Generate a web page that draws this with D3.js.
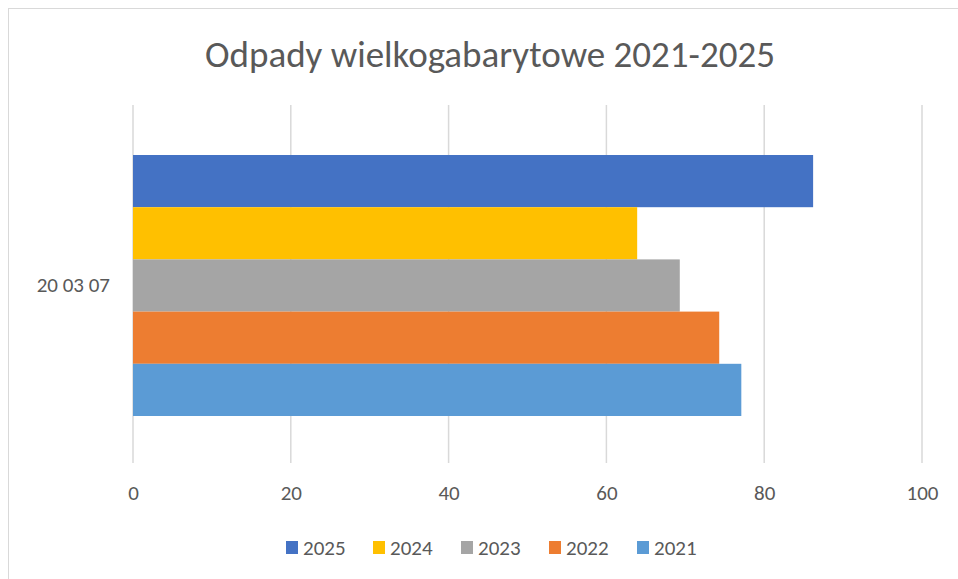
<html>
<head>
	<meta charset="UTF-8">
	<title>Odpady wielkogabarytowe 2021-2025</title>
	<script src="https://cdn.jsdelivr.net/npm/d3@7"></script>
	<style>
		body {
			padding: 0;
			margin: 0;
			background: #fff;
		}
		text {
			font-family: Calibri, Carlito, Lato, "Open Sans", sans-serif;
		}
	</style>
</head>
<body>
	<script>
		var w = 958,
			h = 579;

		// data
		var category = "20 03 07";
		var years = ["2025", "2024", "2023", "2022", "2021"];
		var values = [86.2, 63.9, 69.3, 74.3, 77.1];
		var colors = ["#4472c4", "#ffc000", "#a5a5a5", "#ed7d31", "#5b9bd5"];
		var ticks = [0, 20, 40, 60, 80, 100];

		var plot = {left: 133, right: 922, top: 105, bottom: 463};

		var svg = d3.select("body").append("svg")
			.attr("width", w)
			.attr("height", h);

		// chart border
		svg.append("rect")
			.attr("x", 8.5).attr("y", 8.5)
			.attr("width", 960).attr("height", 580)
			.attr("fill", "#fff")
			.attr("stroke", "#d9d9d9");

		svg.append("text")
			.attr("x", 490).attr("y", 67)
			.attr("text-anchor", "middle")
			.attr("font-size", 37)
			.attr("fill", "#595959")
			.text("Odpady wielkogabarytowe 2021-2025");

		var x = d3.scaleLinear().domain([0, 100]).range([plot.left, plot.right]);
		var y = d3.scaleBand().domain(years).range([plot.top + 50, plot.bottom - 47]);

		// gridlines
		svg.append("g").selectAll("line")
			.data(ticks)
			.join("line")
			.attr("x1", d => x(d)).attr("x2", d => x(d))
			.attr("y1", plot.top).attr("y2", plot.bottom)
			.attr("stroke", "#d9d9d9")
			.attr("stroke-width", 1.5);

		// x axis labels
		var xAxis = d3.axisBottom(x).tickValues(ticks).tickSize(0).tickPadding(0);
		var gx = svg.append("g")
			.attr("transform", "translate(0," + (plot.bottom + 22) + ")")
			.call(xAxis);
		gx.select(".domain").remove();
		gx.selectAll("text")
			.attr("font-size", 21)
			.attr("fill", "#595959")
			.attr("font-family", null);

		// bars
		svg.append("g").selectAll("rect")
			.data(years)
			.join("rect")
			.attr("x", x(0))
			.attr("y", d => y(d))
			.attr("width", (d, i) => x(values[i]) - x(0))
			.attr("height", y.bandwidth())
			.attr("fill", (d, i) => colors[i]);

		// category label
		svg.append("text")
			.attr("x", 110).attr("y", (plot.top + plot.bottom) / 2 + 8)
			.attr("text-anchor", "end")
			.attr("font-size", 21)
			.attr("fill", "#595959")
			.text(category);

		// legend
		var legendX = [286, 373, 461, 549, 637];
		var lg = svg.append("g").selectAll("g")
			.data(years)
			.join("g")
			.attr("transform", (d, i) => "translate(" + legendX[i] + ",541)");
		lg.append("rect")
			.attr("width", 12).attr("height", 13)
			.attr("fill", (d, i) => colors[i]);
		lg.append("text")
			.attr("x", 17).attr("y", 14)
			.attr("font-size", 21)
			.attr("fill", "#595959")
			.text(d => d);
	</script>
</body>
</html>
